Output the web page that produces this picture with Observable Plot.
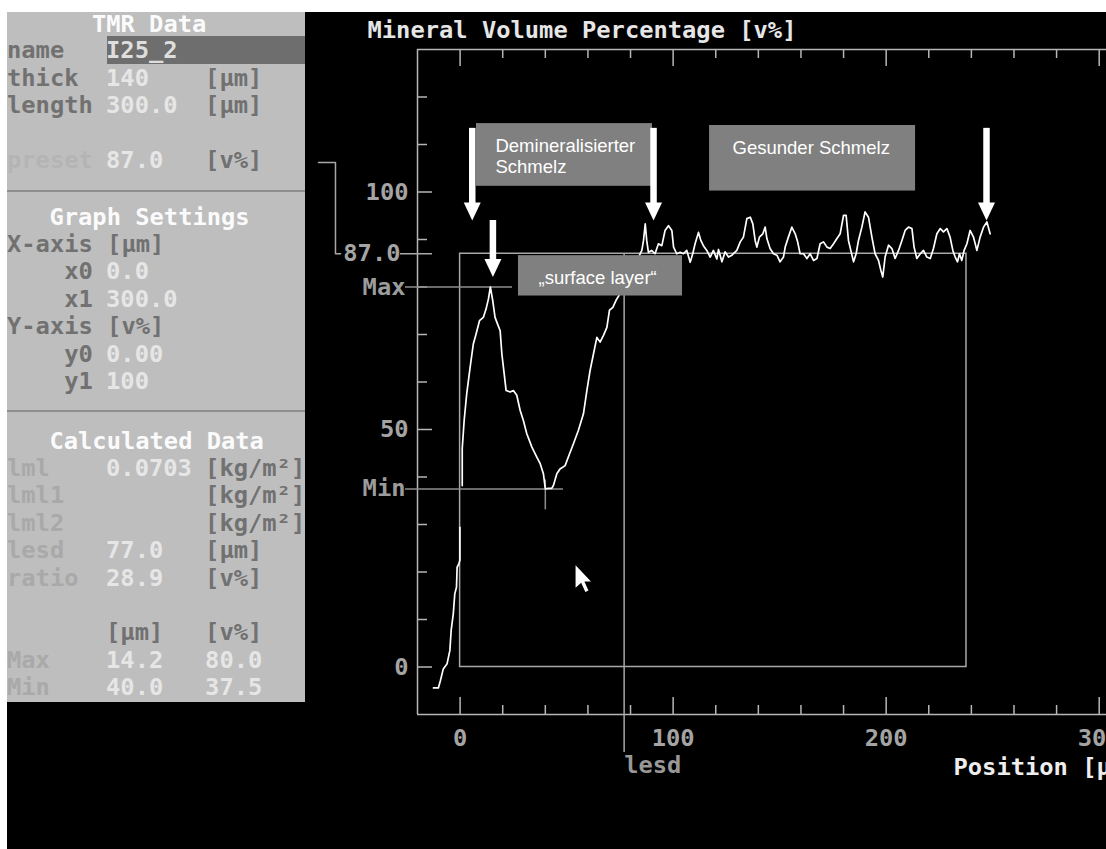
<!DOCTYPE html>
<html><head><meta charset="utf-8">
<script src="https://cdn.jsdelivr.net/npm/d3@7"></script>
<script src="https://cdn.jsdelivr.net/npm/@observablehq/plot@0.6"></script>
<style>
html,body{margin:0;padding:0;background:#fff;width:1106px;height:849px;overflow:hidden;}
#stage{position:absolute;left:7px;top:12px;width:1099px;height:837px;background:#000;}
#panel{position:absolute;left:7px;top:12px;width:298px;height:690px;background:#bebebe;overflow:hidden;font-family:"DejaVu Sans Mono",monospace;font-size:23.75px;font-weight:bold;}
#panel .t{position:absolute;white-space:pre;line-height:26px;height:26px;}
#panel .sep{position:absolute;left:0;width:298px;height:2px;background:#8e8e8e;}
#panel .field{position:absolute;background:#6e6e6e;}
#chart{position:absolute;left:0;top:0;}
</style></head><body>
<div id="stage"></div>
<div id="panel"></div>
<div id="chart"></div>
<script>
// ---------- data ----------
const chartTitle = "Mineral Volume Percentage [v%]";
const xAxisLabel = "Position [µm]";
const xTickLabels = [0, 100, 200, 300];
const yTickLabels = [0, 50, 100];
const preset = 87.0;
const lesd = 77.0;
const maxPos = 14.2, maxVol = 80.0;
const minPos = 40.0, minVol = 37.5;
const rectRight = 237.7;
const refLabels = ["Max", "Min"];
const refValues = [maxVol, minVol];
const crossEnds = [24.6, 48.5];

// measured mineral profile (x in µm, y in vol%), null = gap in trace
const positionUm = [-12.5,-10.2,-9.2,-7.9,-6.1,-4.8,-4.2,-3.2,-2.5,-1.7,-1.4,-0.6,-0.1,-0.1,0.4,1.0,1.0,1.9,3.1,4.7,6.2,7.5,9.1,10.9,12.2,13.3,14.2,15.3,16.4,17.5,18.8,19.6,20.7,21.6,23.5,25.0,26.6,28.2,29.7,31.3,33.7,36.0,37.6,39.1,40.0,41.5,43.0,43.8,45.4,46.9,49.3,50.8,53.2,55.5,57.9,59.5,61.0,62.6,64.2,65.7,67.3,68.9,70.1,71.7,73.2,75.1,77.0,79.5,82.0,84.0,85.3,86.1,86.9,87.6,88.4,89.9,91.5,93.1,94.7,96.2,97.8,99.4,100.2,101.7,103.3,104.8,106.4,108.0,109.2,110.3,111.9,113.0,114.2,115.8,117.4,118.9,120.5,121.3,122.9,124.4,126.0,127.6,129.9,131.5,133.0,134.6,136.2,137.4,138.5,139.3,140.5,142.1,143.2,144.0,145.5,147.1,148.7,150.2,151.8,152.6,154.1,155.7,157.3,158.4,159.6,161.2,162.8,164.3,165.9,167.5,169.0,170.6,172.2,173.7,175.3,176.9,178.4,180.0,181.2,182.3,183.4,184.7,185.9,187.0,188.6,190.1,191.7,193.3,194.8,196.4,197.5,198.4,199.5,201.1,202.7,204.2,205.8,207.4,208.9,210.5,212.1,213.1,214.4,216.0,217.5,219.1,220.7,222.2,223.8,225.4,226.9,228.5,230.0,231.3,232.4,233.5,234.4,235.5,236.6,237.9,239.4,241.0,242.6,244.1,245.7,247.3,248.8];
const mineralVolume = [-4.4,-4.4,-2.8,-0.4,0.7,3.5,7.7,11.2,15.4,16.8,21.0,21.7,22.5,29.4,null,38.2,46.0,51.9,57.5,63.1,68.0,70.1,72.9,73.6,75.4,77.5,80.0,77.2,73.6,72.3,70.8,65.9,61.7,58.2,57.9,58.2,57.2,54.0,51.9,49.1,46.3,44.2,42.8,40.7,37.5,37.6,37.6,38.2,40.7,41.7,42.4,44.2,47.0,49.8,53.3,58.2,62.4,65.9,69.4,68.4,69.8,71.5,75.1,75.7,77.2,78.6,80.5,83.0,85.5,86.5,87.7,89.8,93.3,89.8,87.3,87.7,87.0,89.1,88.7,91.9,92.9,91.9,88.4,87.0,87.3,87.0,87.7,85.2,87.0,89.1,91.5,89.8,88.7,87.7,86.3,87.7,85.9,87.9,85.3,87.4,86.3,86.7,87.7,89.5,90.5,94.4,94.7,93.3,89.8,88.4,90.5,91.2,92.6,90.2,88.1,87.0,86.7,85.3,86.3,88.4,90.5,92.6,91.2,89.6,87.0,87.0,86.0,87.0,85.6,86.0,89.1,89.5,88.4,88.1,89.1,90.2,91.2,95.1,95.1,89.8,87.7,85.3,87.0,89.8,92.6,95.8,94.7,90.5,87.0,85.6,83.5,82.1,86.3,88.8,88.1,86.0,87.7,89.8,91.9,92.6,92.3,88.4,86.0,87.0,87.7,86.3,86.0,88.1,91.2,92.3,91.6,92.3,90.5,87.7,86.3,85.3,87.0,85.6,87.7,89.1,91.9,90.5,87.7,90.5,92.6,93.7,91.2];

// annotations (data units)
const boxLabels = ["Demineralisierter\nSchmelz", "Gesunder Schmelz", "„surface layer“"];
const boxX1 = [7.7, 117.1, 27.4];
const boxX2 = [90.3, 213.8, 104.4];
const boxY1 = [101.2, 100.2, 78.1];
const boxY2 = [114.4, 114.0, 86.6];
const boxTextX = [16.6, 127.9, 36.8];
const boxTextY = [107.6, 109.4, 82.0];
const arrowX = [5.7, 15.4, 90.8, 247.1];
const arrowTop = [113.4, 94.0, 113.4, 113.4];
const arrowTip = [94.0, 82.1, 94.0, 94.0];
const bracketX = [-66.5, -58.5, -58.5, -56.1];
const bracketY = [106.2, 106.2, 87.0, 87.0];
const cursorX = 54.2, cursorY = 21.4;

// side panel texts
const tmrLabels = ["name", "thick", "length", "", "preset"];
const tmrValues = ["I25_2", "140", "300.0", "", "87.0"];
const tmrUnits = ["", "[µm]", "[µm]", "", "[v%]"];
const graphLabels = ["X-axis [µm]", "    x0", "    x1", "Y-axis [v%]", "    y0", "    y1"];
const graphValues = ["", "0.0", "300.0", "", "0.00", "100"];
const graphUnits = ["", "", "", "", "", ""];
const calcLabels = ["lml", "lml1", "lml2", "lesd", "ratio", "", "", "Max", "Min"];
const calcValues = ["0.0703", "", "", "77.0", "28.9", "", "[µm]", "14.2", "40.0"];
const calcUnits = ["[kg/m²]", "[kg/m²]", "[kg/m²]", "[µm]", "[v%]", "", "[v%]", "80.0", "37.5"];
const dimLabels = ["preset", "lml", "lml1", "lml2", "lesd", "ratio", "Max", "Min"];

// ---------- side panel ----------
const panel = document.getElementById("panel");
const CW = 14.15, COL0 = 0, ROW = 27.4;
function put(text, col, cy, color) {
  const d = document.createElement("div");
  d.className = "t";
  d.textContent = text;
  d.style.left = (COL0 + col * CW) + "px";
  d.style.top = (cy - 12 - 12.5) + "px";
  d.style.color = color;
  panel.appendChild(d);
}
function sep(y) {
  const d = document.createElement("div");
  d.className = "sep";
  d.style.top = (y - 12 - 1) + "px";
  panel.appendChild(d);
}
const field = document.createElement("div");
field.className = "field";
Object.assign(field.style, {left: "100px", top: "24px", width: "198px", height: "28px"});
panel.appendChild(field);

const sections = [
  {title: "TMR Data", col: 6, y: 23, labels: tmrLabels, values: tmrValues, units: tmrUnits},
  {title: "Graph Settings", col: 3, y: 216, labels: graphLabels, values: graphValues, units: graphUnits},
  {title: "Calculated Data", col: 3, y: 440, labels: calcLabels, values: calcValues, units: calcUnits}
];
const firstRow = [49.9, 243.4, 467.4];
sections.forEach((s, si) => {
  put(s.title, s.col, s.y, "#fbfbfb");
  s.labels.forEach((lab, k) => {
    const cy = firstRow[si] + ROW * k;
    if (lab) put(lab, 0, cy, dimLabels.includes(lab) ? (lab === "preset" ? "#b4b4b4" : "#a9a9a9") : "#717171");
    const v = s.values[k], u = s.units[k];
    if (v) put(v, 7, cy, v.startsWith("[") ? "#717171" : (v === "I25_2" ? "#dedede" : "#e6e6e6"));
    if (u) put(u, 14, cy, u.startsWith("[") ? "#717171" : "#e6e6e6");
  });
});
sep(191); sep(411);

// ---------- chart ----------
const X0 = -20, X1 = 310, Y0 = -10, Y1 = 130;
const xMinor = d3.range(0, 301, 20).filter(d => d % 100 !== 0);
const xMajor = d3.range(0, 301, 100);
const yMinor = d3.range(10, 121, 10).filter(d => d % 50 !== 0);
const yMajor = [0, 50, 100];
const axisC = "#b6b6b6", rectC = "#a8a8a8", crossC = "#8e8e8e", labC = "#a4a4a4";
const idx = a => a.map((_, i) => i);

const headSymbol = {draw(ctx) { ctx.moveTo(0, 0); ctx.lineTo(-8.5, -18); ctx.lineTo(8.5, -18); ctx.closePath(); }};
const cursorSymbol = {draw(ctx) {
  const s = 1.4, p = [[0,0],[0,16],[4,12.5],[7,19],[9.2,18],[6.3,11.5],[11,11.5]];
  ctx.moveTo(p[0][0]*s, p[0][1]*s);
  for (const q of p.slice(1)) ctx.lineTo(q[0]*s, q[1]*s);
  ctx.closePath();
}};

const chart = Plot.plot({
  width: 1130, height: 849,
  marginLeft: 417, marginRight: 10, marginTop: 49, marginBottom: 135,
  x: {domain: [X0, X1], axis: null},
  y: {domain: [Y0, Y1], axis: null},
  style: "background: transparent; max-width: none; overflow: visible; font-family: 'DejaVu Sans Mono', monospace; font-size: 23.75px; font-weight: bold;",
  marks: [
    // frame
    Plot.ruleY([Y0, Y1], {x1: X0, x2: X1, stroke: axisC, strokeWidth: 1.5}),
    Plot.ruleX([X0], {y1: Y0, y2: Y1, stroke: axisC, strokeWidth: 1.5}),
    // ticks
    Plot.ruleX(xMinor, {y1: Y0, y2: Y0, insetTop: -9, stroke: axisC, strokeWidth: 1.5}),
    Plot.ruleX(xMajor, {y1: Y0, y2: Y0, insetTop: -17, stroke: axisC, strokeWidth: 1.5}),
    Plot.ruleX(xMinor, {y1: Y1, y2: Y1, insetBottom: -9, stroke: axisC, strokeWidth: 1.5}),
    Plot.ruleX(xMajor, {y1: Y1, y2: Y1, insetBottom: -17, stroke: axisC, strokeWidth: 1.5}),
    Plot.ruleY(yMinor, {x1: X0, x2: X0, insetRight: -10, stroke: axisC, strokeWidth: 1.5}),
    Plot.ruleY(yMajor, {x1: X0, x2: X0, insetRight: -15, stroke: axisC, strokeWidth: 1.5}),
    Plot.ruleY([preset], {x1: X0, x2: X0, insetLeft: -17, insetRight: -15, stroke: rectC, strokeWidth: 1.5}),
    // bracket from preset field
    Plot.line(idx(bracketX), {x: i => bracketX[i], y: i => bracketY[i], stroke: rectC, strokeWidth: 1.5}),
    // preset / analysis rectangle
    Plot.rect([0], {x1: 0, x2: rectRight, y1: 0, y2: preset, fill: "none", stroke: rectC, strokeWidth: 1.5}),
    // lesd line
    Plot.ruleX([lesd], {y1: preset, y2: Y0, insetBottom: -38, stroke: rectC, strokeWidth: 1.5}),
    // max / min crosshairs
    Plot.ruleY(idx(refValues), {y: i => refValues[i], x1: X0, x2: i => crossEnds[i], insetLeft: -12, stroke: crossC, strokeWidth: 1.5}),
    Plot.ruleX([minPos], {y1: minVol, y2: minVol, insetTop: -9, insetBottom: -21, stroke: crossC, strokeWidth: 1.5}),
    // profile
    Plot.line(idx(positionUm), {x: i => positionUm[i], y: i => mineralVolume[i], stroke: "#ffffff", strokeWidth: 1.7}),
    // annotation boxes
    Plot.rect(idx(boxLabels), {x1: i => boxX1[i], x2: i => boxX2[i], y1: i => boxY1[i], y2: i => boxY2[i], fill: "#808080"}),
    Plot.text(idx(boxLabels), {x: i => boxTextX[i], y: i => boxTextY[i], text: i => boxLabels[i], textAnchor: "start", fill: "#ffffff", fontFamily: "'Liberation Sans', Arial, sans-serif", fontWeight: "normal", fontSize: 18.5, lineHeight: 1.14}),
    // arrows
    Plot.ruleX(idx(arrowX), {x: i => arrowX[i], y1: i => arrowTop[i], y2: i => arrowTip[i], insetBottom: 12, stroke: "#ffffff", strokeWidth: 6.5}),
    Plot.dot(idx(arrowX), {x: i => arrowX[i], y: i => arrowTip[i], symbol: headSymbol, fill: "#ffffff", stroke: "none"}),
    // y tick labels
    Plot.text(yTickLabels, {x: X0, y: d => d, text: d => String(d), textAnchor: "end", dx: -9, fill: labC}),
    Plot.text([preset], {x: X0, y: d => d, text: d => d.toFixed(1), textAnchor: "end", dx: -17, fill: labC}),
    Plot.text(idx(refLabels), {x: X0, y: i => refValues[i], text: i => refLabels[i], textAnchor: "end", dx: -12, fill: "#9c9c9c"}),
    // x tick labels
    Plot.text(xTickLabels, {x: d => d, y: Y0, text: d => String(d), dy: 24, fill: labC}),
    Plot.text(["lesd"], {x: lesd, y: Y0, text: d => d, dy: 51, textAnchor: "start", fill: "#989898"}),
    Plot.text([xAxisLabel], {x: 231.6, y: Y0, text: d => d, dy: 53, textAnchor: "start", fill: "#eeeeee"}),
    // title
    Plot.text([chartTitle], {x: X0, y: Y1, text: d => d, dx: -50, dy: -19, textAnchor: "start", fill: "#e6e6e6"}),
    // mouse pointer
    Plot.dot([0], {x: cursorX, y: cursorY, symbol: cursorSymbol, fill: "#ffffff", stroke: "none"})
  ]
});
document.getElementById("chart").appendChild(chart);
</script></body></html>
